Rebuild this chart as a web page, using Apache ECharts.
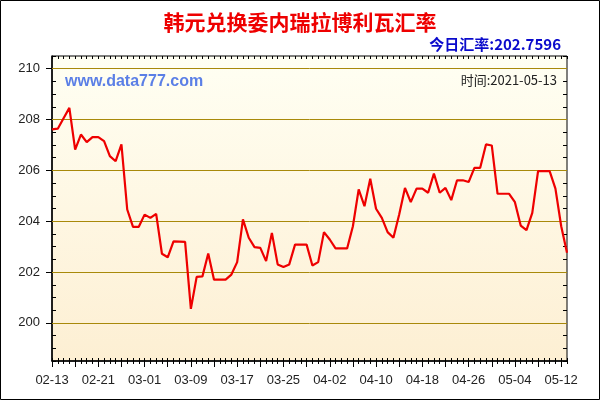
<!DOCTYPE html>
<html>
<head>
<meta charset="utf-8">
<script src="https://cdn.jsdelivr.net/npm/echarts@6/dist/echarts.min.js"></script>
<style>html,body{margin:0;padding:0;background:#fff}#c{width:600px;height:400px}</style>
</head>
<body>
<div id="c"></div>
<script>
// Dates 2021-02-13 .. 2021-05-13 (daily)
var dates = ["02-13","02-14","02-15","02-16","02-17","02-18","02-19","02-20","02-21","02-22","02-23","02-24","02-25","02-26","02-27","02-28",
"03-01","03-02","03-03","03-04","03-05","03-06","03-07","03-08","03-09","03-10","03-11","03-12","03-13","03-14","03-15","03-16","03-17","03-18","03-19","03-20","03-21","03-22","03-23","03-24","03-25","03-26","03-27","03-28","03-29","03-30","03-31",
"04-01","04-02","04-03","04-04","04-05","04-06","04-07","04-08","04-09","04-10","04-11","04-12","04-13","04-14","04-15","04-16","04-17","04-18","04-19","04-20","04-21","04-22","04-23","04-24","04-25","04-26","04-27","04-28","04-29","04-30",
"05-01","05-02","05-03","05-04","05-05","05-06","05-07","05-08","05-09","05-10","05-11","05-12","05-13"];
var rates = [207.61,207.64,208.05,208.46,206.82,207.41,207.11,207.31,207.31,207.15,206.56,206.36,207.02,204.46,203.78,203.78,
204.26,204.13,204.29,202.72,202.58,203.21,203.20,203.19,200.55,201.81,201.83,202.73,201.70,201.70,201.70,201.90,202.39,204.07,203.35,202.98,202.95,202.43,203.54,202.30,202.20,202.30,203.08,203.08,203.08,202.26,202.39,
203.57,203.28,202.93,202.93,202.93,203.80,205.25,204.59,205.67,204.49,204.13,203.57,203.35,204.26,205.31,204.75,205.28,205.28,205.12,205.87,205.12,205.31,204.83,205.61,205.61,205.54,206.10,206.10,207.02,206.98,
205.08,205.08,205.08,204.75,203.83,203.65,204.33,205.97,205.97,205.97,205.28,203.80,202.76];
var gridValues = [200,202,204,206,208,210];
var yMin = 198.5, yMax = 210.5;
var titleText = "韩元兑换委内瑞拉博利瓦汇率";
var todayText = "今日汇率:202.7596";
var siteText = "www.data777.com";
var timeText = "时间:2021-05-13";

var chart = echarts.init(document.getElementById('c'));
chart.setOption({
  animation:false,
  backgroundColor:'#fff',
  title:[
    {text:titleText,left:'center',top:7,textStyle:{color:'#EE0000',fontSize:21,fontWeight:'bold',fontFamily:'"Noto Sans CJK SC", sans-serif'}},
    {text:todayText,right:34,top:32,textStyle:{color:'#0A0ACC',fontSize:15,fontWeight:'bold',fontFamily:'"Noto Sans CJK SC", Arial, sans-serif'}}
  ],
  graphic:[
    {type:'rect',shape:{x:0.5,y:0.5,width:599,height:399},style:{fill:'none',stroke:'#000',lineWidth:1},silent:true,z:100},
    {type:'text',left:65,top:74,style:{text:siteText,fill:'#5B7FE6',font:'bold 16px Arial, "Liberation Sans", sans-serif'},z:100},
    {type:'text',right:43,top:74,style:{text:timeText,fill:'#222',font:'13px "Noto Sans CJK SC", Arial, sans-serif'},z:100}
  ],
  grid:{left:52,right:33,top:56,bottom:39,show:true,borderColor:'#000',borderWidth:1,
    backgroundColor:{type:'linear',x:0,y:0,x2:0,y2:1,colorStops:[{offset:0,color:'#FFFFF3'},{offset:1,color:'#FDEFD3'}]}},
  xAxis:[
    {type:'category',data:dates,boundaryGap:false,position:'bottom',axisLine:{show:true,lineStyle:{color:'#000',width:1.5}},
      axisTick:{show:true,inside:true,length:3,interval:0,lineStyle:{color:'#000'}},
      axisLabel:{interval:function(i){return i%8===0;},color:'#222',fontSize:13,fontFamily:'Arial, "Liberation Sans", sans-serif',margin:13},
      splitLine:{show:false}},
    {type:'category',data:dates,boundaryGap:false,position:'bottom',axisLine:{show:false},
      axisTick:{show:true,inside:false,length:3,interval:0,lineStyle:{color:'#000'}},
      axisLabel:{show:false},splitLine:{show:false}},
    {type:'category',data:dates,boundaryGap:false,position:'bottom',axisLine:{show:false},
      axisTick:{show:true,inside:false,length:6,interval:function(i){return i%4===0;},lineStyle:{color:'#000'}},
      axisLabel:{show:false},splitLine:{show:false}},
    {type:'category',data:dates,boundaryGap:false,position:'top',axisLine:{show:false},
      axisTick:{show:true,inside:true,length:3,interval:0,lineStyle:{color:'#000'}},
      axisLabel:{show:false},splitLine:{show:false}}
  ],
  yAxis:[
    {type:'value',min:yMin,max:yMax,interval:0.5,position:'left',axisLine:{show:true,lineStyle:{color:'#000',width:1.5}},
      axisTick:{show:true,inside:true,length:4,lineStyle:{color:'#000'}},
      axisLabel:{show:true,color:'#222',fontSize:13,fontFamily:'Arial, "Liberation Sans", sans-serif',margin:12,
        formatter:function(v){return gridValues.indexOf(Math.round(v*100)/100)>=0?String(v):'';}},
      splitLine:{show:false}},
    {type:'value',min:yMin,max:yMax,interval:0.5,position:'left',axisLine:{show:false},
      axisTick:{show:true,inside:false,length:6,customValues:gridValues,lineStyle:{color:'#000'}},
      axisLabel:{show:false},splitLine:{show:false}},
    {type:'value',min:yMin,max:yMax,interval:0.5,position:'right',axisLine:{show:false},
      axisTick:{show:true,inside:true,length:4,lineStyle:{color:'#000'}},
      axisLabel:{show:false},splitLine:{show:false}}
  ],
  series:[{
    type:'line',data:rates,xAxisIndex:0,yAxisIndex:0,showSymbol:false,symbol:'none',
    lineStyle:{color:'#EE0000',width:2.2},itemStyle:{color:'#EE0000'},z:5,
    markLine:{silent:true,symbol:'none',label:{show:false},animation:false,
      lineStyle:{color:'#A8890A',width:1,type:'solid'},
      data:gridValues.map(function(v){return {yAxis:v};}),z:2}
  }]
});
</script>
</body>
</html>
